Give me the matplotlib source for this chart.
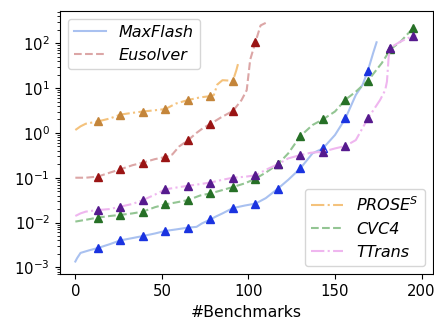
import matplotlib
matplotlib.use('Agg')
import matplotlib.pyplot as plt

# (x, seconds) knots
maxflash_x = [0, 1, 3, 8, 13, 20, 26, 33, 39, 46, 52, 58, 65, 70, 73, 78, 81, 85, 91, 98,
              104, 110, 117, 123, 130, 137, 143, 150, 156, 162, 166, 169, 172, 174]
maxflash_y = [0.00135, 0.0016, 0.0021, 0.0024, 0.0027, 0.0033, 0.004, 0.0045, 0.005, 0.0057,
              0.0065, 0.007, 0.0077, 0.008, 0.0095, 0.0117, 0.0135, 0.016, 0.021, 0.024,
              0.0264, 0.035, 0.057, 0.09, 0.162, 0.35, 0.45, 0.9, 2.1, 7.0, 12.0, 24.5, 60.0, 105.0]

eusolver_x = [0, 6, 13, 20, 26, 33, 39, 46, 52, 56, 60, 65, 70, 74, 78, 84, 91, 96, 99,
              101, 104, 107, 110]
eusolver_y = [0.1, 0.1, 0.106, 0.13, 0.154, 0.19, 0.217, 0.26, 0.29, 0.33, 0.5, 0.68, 1.0,
              1.3, 1.58, 2.2, 3.08, 5.4, 9.0, 43.0, 105.0, 250.0, 285.0]

prose_x = [0, 3, 6, 13, 20, 26, 33, 39, 46, 52, 58, 65, 72, 78, 80, 82, 85, 91, 93, 94]
prose_y = [1.16, 1.4, 1.6, 1.8, 2.1, 2.56, 2.8, 3.0, 3.2, 3.4, 4.5, 5.4, 6.2, 6.6, 7.0,
           12.0, 15.0, 14.5, 25.0, 35.0]

cvc4_x = [0, 6, 13, 20, 26, 33, 39, 46, 52, 58, 65, 72, 78, 85, 91, 98, 104, 110, 117,
          123, 130, 137, 143, 150, 156, 162, 169, 177, 182, 188, 195, 196]
cvc4_y = [0.0105, 0.0115, 0.0129, 0.014, 0.0148, 0.016, 0.0175, 0.022, 0.0255, 0.028,
          0.0316, 0.04, 0.0447, 0.053, 0.062, 0.075, 0.095, 0.13, 0.2, 0.35, 0.85, 1.5,
          2.0, 3.0, 5.5, 8.3, 14.6, 36.0, 73.0, 110.0, 216.0, 230.0]

ttrans_x = [0, 3, 6, 13, 20, 26, 33, 39, 46, 52, 58, 65, 72, 78, 85, 91, 98, 104, 110,
            117, 123, 130, 136, 143, 150, 156, 162, 169, 176, 179, 180, 181, 182, 188, 195, 197]
ttrans_y = [0.014, 0.016, 0.0175, 0.019, 0.02, 0.0226, 0.026, 0.0316, 0.042, 0.055, 0.06,
            0.066, 0.072, 0.078, 0.09, 0.1, 0.105, 0.113, 0.15, 0.2, 0.27, 0.32, 0.36, 0.38,
            0.45, 0.51, 0.69, 2.1, 5.4, 9.0, 14.0, 50.0, 80.0, 110.0, 146.0, 150.0]

# triangle markers every 13 benchmarks
mark_x = [13, 26, 39, 52, 65, 78, 91, 104, 117, 130, 143, 156, 169, 182, 195]


def markers(xs, ys):
    mx = [m for m in mark_x if m <= xs[-1]]
    my = [ys[xs.index(m)] for m in mx]
    return mx, my


series = [
    ('MaxFlash', maxflash_x, maxflash_y, '-', '#a9c1f0', '#1a33e0'),
    ('Eusolver', eusolver_x, eusolver_y, '--', '#dca6a6', '#9a1414'),
    ('PROSE$^S$', prose_x, prose_y, '-.', '#f4c27c', '#c4853a'),
    ('CVC4', cvc4_x, cvc4_y, '--', '#93c593', '#267026'),
    ('TTrans', ttrans_x, ttrans_y, '-.', '#efb6ef', '#561a8e'),
]

fig = plt.figure(figsize=(4.35, 3.22), dpi=100)
ax = fig.add_axes([0.137, 0.148, 0.858, 0.819])

lines = []
for name, xs, ys, ls, lc, mc in series:
    ln, = ax.plot(xs, ys, ls, color=lc, lw=1.5, label=name)
    lines.append(ln)
    mx, my = markers(xs, ys)
    ax.plot(mx, my, '^', color=mc, markersize=5.2)

ax.set_yscale('log')
ax.set_xlim(-9.1, 206.5)
ax.set_ylim(10 ** -3.156, 10 ** 2.728)
ax.set_xticks([0, 50, 100, 150, 200])
ax.tick_params(labelsize=10.7)
ax.set_xlabel('#Benchmarks', fontsize=11.3)

leg1 = ax.legend(handles=lines[:2], loc='upper left', prop={'style': 'italic', 'size': 11.5})
ax.add_artist(leg1)
ax.legend(handles=lines[2:], loc='lower right', prop={'style': 'italic', 'size': 11.5})

fig.savefig('out.png', dpi=100)
